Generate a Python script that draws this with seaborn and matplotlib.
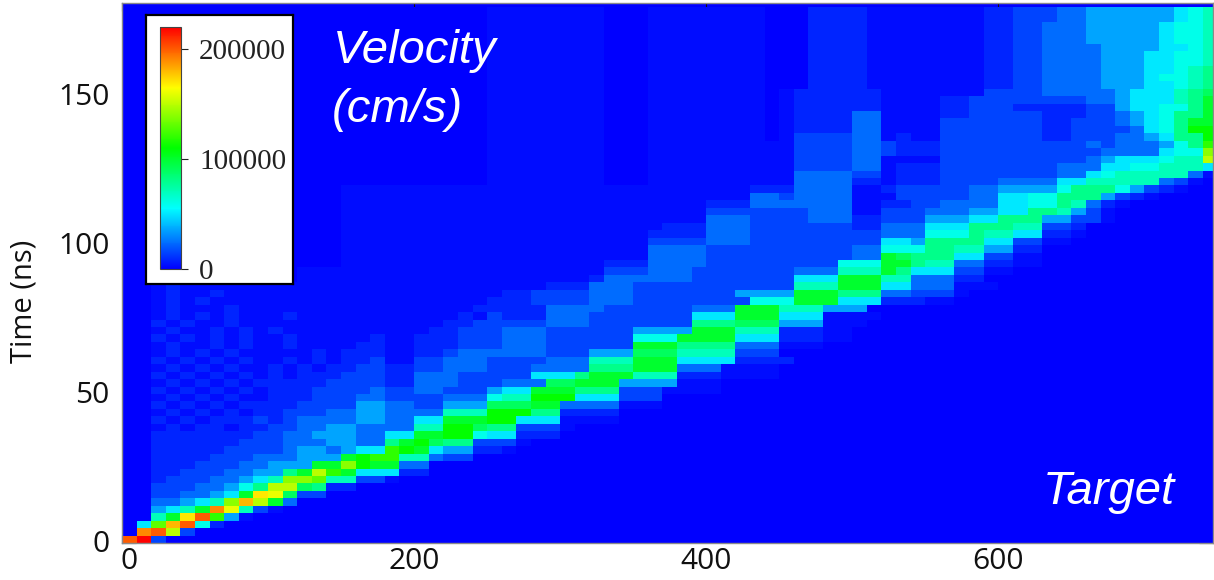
import numpy as np
import pandas as pd
import matplotlib
matplotlib.use("Agg")
import matplotlib.pyplot as plt
from matplotlib.colors import LinearSegmentedColormap
from matplotlib.transforms import ScaledTranslation
import seaborn as sns

# Velocity, one string per 2.5 ns row (latest time first),
# one character per 10-unit column; LEVELS gives the cm/s of each character
VELOCITY_ROWS = [
"00000 00000 00000 00000 00000 ..... ...00 0.... ....0 00111 1.... ....1 12223 34444 44567",
"00000 00000 00000 00000 00000 ..... ...00 0.... ....0 00111 1.... ....1 12223 34444 44567",
"00000 00000 00000 00000 00000 ..... ...00 0.... ....0 00111 1.... ....1 12233 34444 45667",
"00000 00000 00000 00000 00000 ..... ...00 0.... ....0 00111 1.... ....1 12233 34444 45667",
"00000 00000 00000 00000 00000 ..... ...00 0.... ....0 00111 1.... ....1 12233 34444 45667",
"00000 00000 00000 00000 00000 ..... ...00 0.... ....0 00111 1.... ....1 12233 33444 45567",
"00000 00000 00000 00000 00000 ..... ...00 0.... ....0 00111 1.... ....1 12233 33444 55667",
"00000 00000 00000 00000 00000 ..... ...00 0.... ....0 00111 1.... ....1 12233 33444 55667",
"00000 00000 00000 00000 00000 ..... ...00 0.... ....0 00111 1.... ....1 12233 33444 55678",
"00000 00000 00000 00000 00000 ..... ...00 0.... ....0 00111 1.... ....1 12233 33444 56678",
"00000 00000 00000 00000 00000 ..... ...00 0.... ....0 00111 1.... ....1 12233 33444 55678",
"00000 00000 00000 00000 00000 ..... ...00 0.... ....0 .1111 11... ....2 22233 33345 55789",
"00000 00000 00000 00000 00000 ..... ...00 0.... ....0 .1111 11... .1122 22222 23345 5578a",
"00000 00000 00000 00000 00000 ..... ...00 0.... ....0 .1111 11... .1122 21111 12245 5668a",
"00000 00000 00000 00000 00000 ..... ...00 0.... ....0 .1111 33... .1122 22211 12234 5688a",
"00000 00000 00000 00000 00000 ..... ...00 0.... ....0 .1111 33... .2222 22211 22234 568aa",
"00000 00000 00000 00000 00000 ..... ...00 0.... ....0 .1111 33... .2222 22211 22223 568bb",
"00000 00000 00000 00000 00000 ..... ...00 0.... ....0 .2222 33.1. .2222 22211 22233 4588b",
"00000 00000 00000 00000 00000 ..... ...00 0.... ..... .2222 33211 12222 22222 23233 3468c",
"00000 00000 00000 00000 00000 ..... ...00 0.... ..... .2222 33211 12222 22222 22333 3566e",
"00000 00000 00000 00000 00000 ..... ...00 0.... ..... .2222 33... .2222 22222 23455 5677f",
"00000 00000 00000 00000 00000 ..... ...00 0.... ..... .2222 33.11 12222 22223 33556 67775",
"00000 00000 00000 00000 00000 ..... ...00 0.... ..... .3333 22.11 12222 22223 35677 7773.",
"00000 00000 00000 00000 00000 ..... ...00 0.... ..... .3333 11.11 12222 33335 57777 732.",
"00000 00000 00000 ..... ..... ..... ..... ..... ...11 13333 ..122 22233 44446 88864 21.",
"00000 00000 00000 ..... ..... ..... ..... ..... ...33 23333 ...22 22233 55668 88421 .",
"00000 00000 00000 ..... ..... ..... ..... ..... 11133 33333 ..112 23333 55668 731.",
"00000 00000 00000 ..... ..... ..... ..... ..... 22222 22333 ..222 33344 55887 42.",
"00000 00000 00000 ..... ..... ..... ..... ..... 33322 22333 11222 44455 88844 22.",
"00000 00000 00000 ..... ..... ..... ..... ..111 33322 22222 11333 55588 87722 1",
"00000 00000 00000 ..... ..... ..... ..... .1111 33322 22222 22333 66687 75511 .",
"00000 00000 00000 ..... ..... ..... ..... .2222 33322 22222 22554 88885 522..",
"00000 00000 00000 ..... ..... ..... ..... .3333 22222 22222 33666 88774 411",
"00000 00000 00000 ..... ..... ..... ..... .3333 22222 22222 33a98 88552 2..",
"00000 00000 00000 ..... ..... ..... ...11 13333 22222 22226 66aa8 77331 1..",
"00000 00000 00... ..... ..... ..... ...22 23332 22222 23337 77a85 5522. .",
"00000 00000 00... ..... ..... ..... ..133 33332 22222 2555a aa773 33110",
"00.1. ..... ..... ..... ..... ....1 11333 22222 22222 2777a aa553 33...",
"00.1. .1... ..... ..... ..... .1122 22333 22222 22444 4aaa8 88332 22.",
"00.1. 1.... ..... ..... ..... 11122 22333 22222 22266 6aaa5 55111 ..",
"00.1. ..1.. ..... ..... ....1 11113 33322 22223 33aaa 77744 4",
"00.1. 1.1.. .1... ..... ...1. 21113 33222 22225 55aaa 555.. ..",
"001.1 ..1.. ..... ..... ..112 22223 33222 22228 88999 444.. .",
"00.1. .1.1. 1.... ..... .1122 23332 22222 4444a aa777 111..",
"001.1 .1.1. .1... ..1.. 11122 23332 22222 666aa aa555 111..",
"00.1. .1.1. .1... .11.. 11122 23332 22222 aaa88 88333 ...",
"00.1. 1.1.. ...1. 111.. 11233 33332 22444 99977 77222",
"001.1 .1.1. .1.1. 112.. 22333 22223 33777 aaa55 55111 1",
"00.1. 1.1.. 1.1.1 12211 22333 22233 33888 aaa33 3....",
"001.1 .1.1. 1.111 22211 33322 22255 58aaa 77711 1....",
"00.1. 1.1.1 11112 22211 33322 23339 9aaa4 444.. .",
"001.1 .1.1. 11122 22322 33222 455aa a8882 22... .",
"00.1. 1.1.. 11122 23322 22333 677bb b5552 22",
"001.1 .1.11 11222 24433 22444 999aa 3333. ..",
"00.1. 1.1.1 12223 34433 33777 bbb88 1111",
"001.1 .1112 12333 34433 55aaa bb555 ....",
"00.1. 11.11 22334 43333 77bb9 88222 .",
"00111 11112 23344 43355 aabb6 55111",
"00111 11122 23334 4338a b9882 22.",
"00111 11222 23443 455cb a5441 1.",
"00111 12223 33444 abcc7 7322",
"00111 22233 444aa ebaa3 3",
"00112 22334 48afc a5551 1",
"00122 23345 7eed7 722.",
"00222 33468 ff981 1",
"00223 345ah g922",
"00334 57eif a3",
"00457 ajg72 .",
"007ah kc4.",
"05dik 61",
"0jkf2",
"km2",
]
COLUMN_STEP = 10
ROW_STEP = 2.5
LEVELS = {ch: i * 10000 for i, ch in enumerate("0123456789abcdefghijklm")}
LEVELS.update({".": 3000, "1": 8000, "2": 15000, "3": 24000, "4": 36000})
X_TICKS = [0, 200, 400, 600]
Y_TICKS = [0, 50, 100, 150]
CBAR_TICKS = [0, 100000, 200000]
VMAX = 220000

W, H = 1214, 580
rows = [r.replace(" ", "").ljust(75, "0")[:75] for r in VELOCITY_ROWS]
matrix = np.array([[LEVELS[c] for c in r] for r in rows], dtype=float)
n_rows = matrix.shape[0]
times = [(n_rows - 1 - i) * ROW_STEP for i in range(n_rows)]
positions = [j * COLUMN_STEP for j in range(matrix.shape[1])]
df = pd.DataFrame(matrix, index=times, columns=positions)

cmap = LinearSegmentedColormap.from_list(
    "velocity", ["#0000ff", "#00ffff", "#00ff00", "#ffff00", "#ff0000"], N=256)

sns.set_theme(style="white")
plt.rcParams["font.family"] = ["Open Sans", "DejaVu Sans"]

def box(l, t, r, b):
    return [l / W, (H - b) / H, (r - l) / W, (b - t) / H]

fig = plt.figure(figsize=(W / 100, H / 100), dpi=100, facecolor="white")
ax = fig.add_axes(box(122, 3, 1213, 543))
sns.heatmap(df, ax=ax, cmap=cmap, vmin=0, vmax=VMAX, cbar=False,
            xticklabels=False, yticklabels=False, linewidths=0)
ax.set_facecolor("#0000ff")
ax.set_xlim(0, 74.7)
ax.set_ylim(n_rows, -0.5)
ax.set_xticks([v / COLUMN_STEP for v in X_TICKS])
ax.set_xticklabels([str(v) for v in X_TICKS])
ax.set_yticks([n_rows - v / ROW_STEP for v in Y_TICKS])
ax.set_yticklabels([str(v) for v in Y_TICKS], rotation=0)
ax.tick_params(axis="x", direction="in", length=5.5, width=0.8, color="#111111",
               labelsize=21.5, pad=3, top=True, bottom=True, labelcolor="#111111")
ax.tick_params(axis="y", direction="in", length=10, width=0.8, color="#111111",
               labelsize=21.5, pad=9, left=True, right=True, labelcolor="#111111")
nudge = ScaledTranslation(5 / 72, 0, fig.dpi_scale_trans)
first = ax.get_xticklabels()[0]
first.set_transform(first.get_transform() + nudge)
for lab in ax.get_yticklabels():
    lab.set_transform(lab.get_transform() + ScaledTranslation(0, 1.5 / 72, fig.dpi_scale_trans))
ax.set_xlabel("")
ax.set_ylabel("")
for s in ax.spines.values():
    s.set_visible(True)
    s.set_color("#8a8a8a")
    s.set_linewidth(1.0)
fig.text(24 / W, 1 - 301 / H, "Time (ns)", rotation=90, ha="center", va="center",
         fontsize=21, color="#111111")

# Colour-bar legend on a white card
card = fig.add_axes(box(146, 15, 293, 284))
card.set_xticks([]); card.set_yticks([])
card.set_facecolor("white")
card.set_zorder(3)
for s in card.spines.values():
    s.set_color("black"); s.set_linewidth(1.6)
cax = fig.add_axes(box(160, 27, 181, 269))
cax.set_zorder(4)
cb = fig.colorbar(ax.collections[0], cax=cax)
cb.set_ticks(CBAR_TICKS)
cb.set_ticklabels([str(v) for v in CBAR_TICKS])
cb.ax.tick_params(length=5, width=0.8, color="#222222", labelsize=21, pad=8,
                  labelcolor="#222222", direction="out")
for lab in cb.ax.get_yticklabels():
    lab.set_fontfamily("Liberation Serif")
cb.outline.set_edgecolor("#444444")
cb.outline.set_linewidth(0.8)

note = dict(color="white", style="italic", family="Liberation Sans", fontsize=34,
            ha="left", va="center", zorder=5)
fig.text(333 / W, 1 - 51 / H, "Velocity", **note)
fig.text(332 / W, 1 - 110 / H, "(cm/s)", **note)
fig.text(1043 / W, 1 - 492 / H, "Target", **note)

fig.savefig("out.png", dpi=100, facecolor="white")
